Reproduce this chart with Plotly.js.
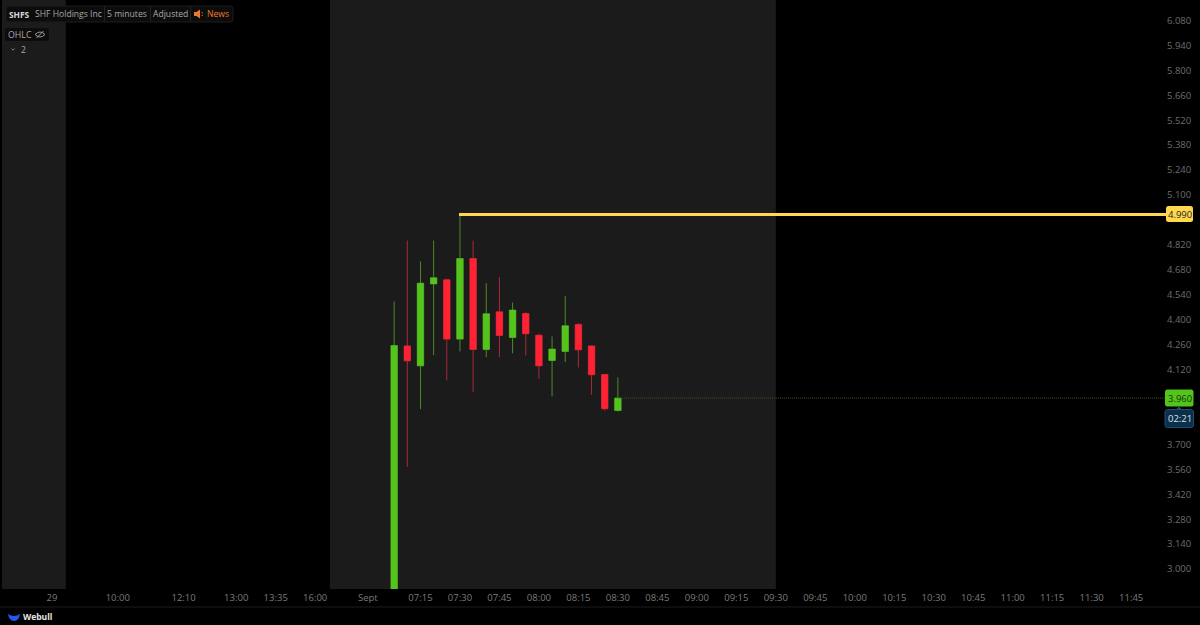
<!DOCTYPE html>
<html><head><meta charset="utf-8">
<script src="https://cdn.plot.ly/plotly-3.0.1.min.js"></script>
<style>html,body{margin:0;padding:0;background:#000;overflow:hidden}#c{width:1200px;height:625px}</style>
</head><body><div id="c"></div><script>
// Bars are placed by session index (5-minute bars), as the chart's axis skips closed hours.
const barIndex = [0,1,2,3,4,5,6,7,8,9,10,11,12,13,14,15,16,17];
const opens  = [2.80,4.253,4.141,4.601,4.624,4.291,4.743,4.233,4.444,4.300,4.435,4.313,4.171,4.222,4.373,4.253,4.092,3.890];
const highs  = [4.502,4.844,4.727,4.844,4.631,4.990,4.844,4.605,4.639,4.496,4.442,4.321,4.306,4.534,4.381,4.256,4.096,4.076];
const lows   = [2.78,3.574,3.898,4.201,4.059,4.222,3.994,4.190,4.190,4.212,4.199,4.067,3.969,4.162,4.132,3.978,3.890,3.885];
const closes = [4.255,4.169,4.605,4.635,4.291,4.743,4.233,4.433,4.311,4.454,4.321,4.141,4.235,4.366,4.231,4.091,3.900,3.960];
const highLevel = 4.990;
const lastPrice = 3.960;
const xTickVals = [-26,-21,-16,-12,-9,-6,-2,2,5,8,11,14,17,20,23,26,29,32,35,38,41,44,47,50,53,56];
const xTickText = ['29','10:00','12:10','13:00','13:35','16:00','Sept','07:15','07:30','07:45','08:00','08:15','08:30','08:45','09:00','09:15','09:30','09:45','10:00','10:15','10:30','10:45','11:00','11:15','11:30','11:45'];
const yTicks = [6.08,5.94,5.80,5.66,5.52,5.38,5.24,5.10,4.82,4.68,4.54,4.40,4.26,4.12,3.70,3.56,3.42,3.28,3.14,3.00];

const W=1166,H=589,FONT='"Open Sans", sans-serif';
const GREEN='#52c41a',RED='#ff2233',GW='#4c8a2a',RW='#a8283a',YEL='#ffd84d',BAND='#1b1b1b';
function roundPath(x0,y0,x1,y1,r){const a=-y0,b=-y1;
 return `M${x0+r},${a}L${x1-r},${a}Q${x1},${a} ${x1},${a-r}L${x1},${b+r}Q${x1},${b} ${x1-r},${b}L${x0+r},${b}Q${x0},${b} ${x0},${b+r}L${x0},${a-r}Q${x0},${a} ${x0+r},${a}Z`;}
function pix(path,fill,line,lw){return {type:'path',path,xref:'paper',yref:'paper',xsizemode:'pixel',ysizemode:'pixel',xanchor:0,yanchor:1,
 fillcolor:fill||'rgba(0,0,0,0)',line:{color:line||'rgba(0,0,0,0)',width:lw===undefined?(line?1:0):lw},layer:'above'};}
function txt(text,x,y,color,size,anchor,bold){return {text:bold?`<b>${text}</b>`:text,xref:'paper',yref:'paper',x:x/W,y:1-y/H,xanchor:anchor||'left',yanchor:'middle',showarrow:false,
 font:{family:FONT,size:size||8.6,color:color||'#a8a8a8'},borderpad:0,borderwidth:0};}
const band=(a,b)=>({type:'rect',xref:'x',yref:'paper',x0:a,x1:b,y0:0,y1:1,fillcolor:BAND,line:{width:0},layer:'below'});

const shapes=[band(-29.8,-24.95),band(-4.88,29.0),
 {type:'line',xref:'paper',yref:'paper',x0:0,x1:1200/W,y0:1-607/H,y1:1-607/H,line:{color:'#1d1d1d',width:1}},
 pix(roundPath(6,6,233,22,2.5),'#0c0c0c','#1d1d1d'),
 pix('M104.5,-6.5L104.5,-21.5','', '#222'),pix('M150.5,-6.5L150.5,-21.5','', '#222'),pix('M190.5,-6.5L190.5,-21.5','', '#222'),
 pix(roundPath(5,28,49,41,2),'#0c0c0c'),
 // speaker icon
 pix('M194,-12L196.5,-12L200,-9.5L200,-18.5L196.5,-16L194,-16Z','#ee7a28'),
 pix('M201.5,-12.5L203,-13M201.5,-15.5L203,-15','', '#ee7a28',0.8),
 // eye icon with slash
 pix('M35,-34.5Q40,-29.5 45,-34.5Q40,-39.5 35,-34.5Z','', '#9a9a9a',1),
 pix('M36.5,-38L43.5,-31','', '#9a9a9a',1),
 pix('M38.6,-34.5a1.4,1.4 0 1 0 2.8,0a1.4,1.4 0 1 0 -2.8,0Z','#9a9a9a'),
 // collapse chevron
 pix('M11.5,-48.5L13,-50.2L14.5,-48.5','', '#9a9a9a',0.8),
 // Webull logo crescent
 pix('M8,-614Q14,-618 20,-614Q19,-621 14,-621Q9,-621 8,-614Z','#2457f0'),
 // price labels
 pix(roundPath(1166,206,1193,222,2.5),YEL),
 pix(roundPath(1165,389.5,1193.5,406.5,2.5),GREEN),
 pix('M1176,-409.5L1179,-406.5L1182,-409.5Z','#14507a'),
 pix(roundPath(1165,409.5,1193.5,427.5,2.5),'#0d2f4a','#14507a')];

const annotations=[
 txt('SHFS',8.5,14.5,'#d8d8d8',8.4,'left',true),
 txt('SHF Holdings Inc',35,14.5),txt('5 minutes',107,14.5),txt('Adjusted',153,14.5),
 txt('News',207,14.5,'#ee7a28'),txt('OHLC',8,34.5,'#a8a8a8',8.8),txt('2',21,50),
 txt('Webull',23,616.5,'#e6e6e6',8.5,'left',true),
 txt('4.990',1179.5,214.5,'#222',9.5,'center'),
 txt('3.960',1179.5,398,'#16330a',9.5,'center'),
 txt('02:21',1179.5,418.5,'#d8e4ec',9.5,'center')];

const bodyHigh=opens.map((o,i)=>Math.max(o,closes[i])),bodyLow=opens.map((o,i)=>Math.min(o,closes[i]));
const candle=(h,l,inc,dec,w)=>({type:'candlestick',x:barIndex,open:opens,high:h,low:l,close:closes,whiskerwidth:0,hoverinfo:'skip',showlegend:false,
 increasing:{line:{color:inc,width:w},fillcolor:inc},decreasing:{line:{color:dec,width:w},fillcolor:dec}});
const xEnd=58.65;
const data=[
 {type:'scatter',mode:'lines',x:[barIndex[17],xEnd],y:[lastPrice,lastPrice],line:{color:'#3a5a2a',width:1,dash:'1px,1px'},hoverinfo:'skip',showlegend:false},
 candle(highs,lows,GW,RW,1),
 candle(bodyHigh,bodyLow,GREEN,RED,0),
 {type:'scatter',mode:'lines',x:[4.93,xEnd],y:[highLevel,highLevel],line:{color:YEL,width:3},hoverinfo:'skip',showlegend:false}
];
const layout={width:1200,height:625,paper_bgcolor:'#000',plot_bgcolor:'#000',margin:{l:0,r:34,t:0,b:36,pad:0},showlegend:false,
 font:{family:FONT,size:9.5,color:'#6e6e6e'},
 xaxis:{type:'linear',range:[-29.95,xEnd],tickmode:'array',tickvals:xTickVals,ticktext:xTickText,showgrid:false,zeroline:false,showline:false,ticks:'',rangeslider:{visible:false},ticklabelstandoff:1,tickfont:{family:FONT,size:9.5,color:'#7a7a7a'},tickangle:0,fixedrange:true},
 yaxis:{side:'right',range:[2.888,6.195],tickmode:'array',tickvals:yTicks,ticktext:yTicks.map(v=>v.toFixed(3)),showgrid:false,zeroline:false,showline:false,ticks:'',tickfont:{family:FONT,size:9.5,color:'#6e6e6e'},fixedrange:true},
 shapes,annotations};
Plotly.newPlot('c',data,layout,{displayModeBar:false,staticPlot:true});
</script></body></html>
